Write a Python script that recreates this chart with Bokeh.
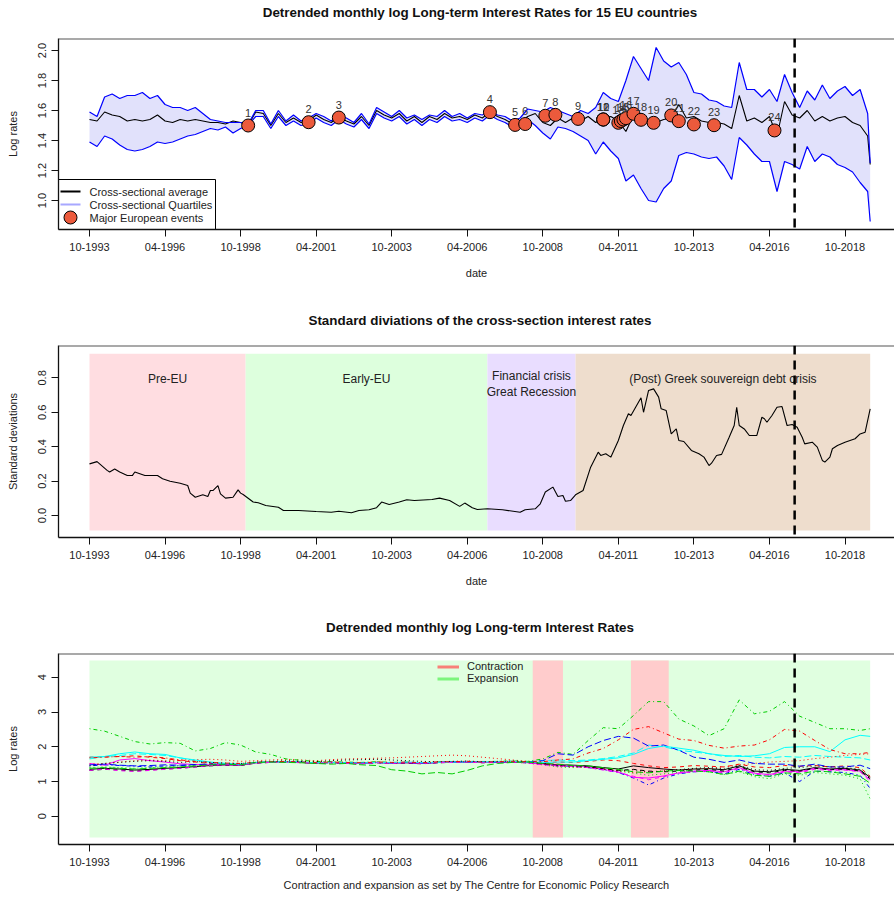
import pandas as pd
from bokeh.plotting import figure
from bokeh.layouts import column
from bokeh.models import Span, FixedTicker, Legend, LegendItem, ColumnDataSource, PrintfTickFormatter
from bokeh.core.properties import value
from bokeh.embed import file_html
from bokeh.resources import INLINE

# ---------------- data ----------------
titles = ["Detrended monthly log Long-term Interest Rates for 15 EU countries",
          "Standard diviations of the cross-section interest rates",
          "Detrended monthly log Long-term Interest Rates"]
tick_labels = ["10-1993", "04-1996", "10-1998", "04-2001", "10-2003", "04-2006",
               "10-2008", "04-2011", "10-2013", "04-2016", "10-2018"]
cutoff_date = "2017-02"

# Panel 1: quarterly cross-sectional statistics (Oct 1993 .. Jul 2019, plus Aug 2019)
p1_start, p1_last, p1_final = "1993-10-01", "2019-07-01", "2019-08"
p1_upper = [1.59, 1.56, 1.69, 1.71, 1.68, 1.70, 1.70, 1.72, 1.68, 1.70, 1.64, 1.62, 1.62, 1.60, 1.62, 1.58, 1.54, 1.53, 1.52, 1.52, 1.52, 1.51,
            1.60, 1.60, 1.51, 1.60, 1.53, 1.57, 1.53, 1.55, 1.58, 1.56, 1.53, 1.57, 1.55, 1.52, 1.58, 1.51, 1.62, 1.59, 1.56, 1.60, 1.55, 1.57, 1.54, 1.57, 1.56, 1.60, 1.56, 1.58, 1.55, 1.58, 1.57, 1.60, 1.57,
            1.56, 1.53, 1.55, 1.61, 1.60, 1.59, 1.62, 1.60, 1.58, 1.56, 1.60, 1.58, 1.62, 1.72, 1.68, 1.66, 1.80, 1.96, 1.88, 1.80, 2.02, 1.93, 1.89, 1.92, 1.84, 1.72, 1.71, 1.67, 1.66, 1.63, 1.62, 1.92, 1.74, 1.74, 1.69, 1.74, 1.66, 1.84, 1.72, 1.62, 1.73, 1.67, 1.77, 1.68, 1.73, 1.76, 1.70, 1.74, 1.58,
            1.25]
p1_mean = [1.54, 1.53, 1.59, 1.57, 1.56, 1.53, 1.54, 1.53, 1.54, 1.57, 1.53, 1.52, 1.54, 1.53, 1.54, 1.53, 1.52, 1.52, 1.51, 1.53, 1.52, 1.50,
           1.59, 1.58, 1.50, 1.58, 1.52, 1.55, 1.52, 1.53, 1.57, 1.54, 1.52, 1.56, 1.53, 1.51, 1.56, 1.50, 1.60, 1.57, 1.55, 1.58, 1.53, 1.56, 1.52, 1.56, 1.54, 1.58, 1.55, 1.56, 1.54, 1.57, 1.55, 1.59, 1.56,
           1.54, 1.51, 1.52, 1.56, 1.58, 1.52, 1.50, 1.55, 1.52, 1.55, 1.53, 1.56, 1.52, 1.54, 1.56, 1.53, 1.46, 1.57, 1.55, 1.53, 1.52, 1.54, 1.55, 1.64, 1.55, 1.56, 1.53, 1.52, 1.52, 1.51, 1.48, 1.70, 1.53, 1.55, 1.52, 1.56, 1.43, 1.66, 1.57, 1.55, 1.60, 1.53, 1.56, 1.53, 1.55, 1.56, 1.52, 1.50, 1.43,
           1.24]
p1_lower = [1.39, 1.36, 1.43, 1.41, 1.37, 1.34, 1.33, 1.34, 1.36, 1.39, 1.38, 1.39, 1.41, 1.43, 1.44, 1.46, 1.48, 1.47, 1.49, 1.45, 1.48, 1.50,
            1.56, 1.56, 1.48, 1.56, 1.50, 1.53, 1.50, 1.51, 1.55, 1.52, 1.50, 1.54, 1.51, 1.49, 1.54, 1.48, 1.58, 1.55, 1.53, 1.56, 1.51, 1.54, 1.50, 1.54, 1.52, 1.56, 1.53, 1.54, 1.52, 1.55, 1.53, 1.57, 1.54,
            1.52, 1.49, 1.50, 1.54, 1.50, 1.45, 1.41, 1.49, 1.48, 1.46, 1.43, 1.40, 1.31, 1.39, 1.33, 1.28, 1.13, 1.17, 1.08, 1.00, 0.99, 1.08, 1.13, 1.30, 1.32, 1.31, 1.29, 1.28, 1.29, 1.23, 1.14, 1.42, 1.37, 1.31, 1.26, 1.26, 1.06, 1.26, 1.24, 1.21, 1.36, 1.26, 1.31, 1.29, 1.24, 1.22, 1.19, 1.12, 1.06,
            0.86]

event_ids = [str(i) for i in range(1, 25)]
event_dates = ["1999-01", "2001-01", "2002-01", "2007-01", "2007-11", "2008-03", "2008-11", "2009-03",
               "2009-12", "2010-10", "2010-10", "2010-10", "2011-04", "2011-05", "2011-06", "2011-07",
               "2011-10", "2012-01", "2012-06", "2013-01", "2013-04", "2013-10", "2014-06", "2016-06"]
event_values = [1.500, 1.522, 1.553, 1.589, 1.504, 1.510, 1.565, 1.571, 1.544, 1.540, 1.540, 1.540,
                1.518, 1.530, 1.540, 1.549, 1.578, 1.538, 1.518, 1.567, 1.529, 1.507, 1.502, 1.467]
legend1_labels = ["Cross-sectional average", "Cross-sectional Quartiles", "Major European events"]

# Panel 2: standard deviations of the cross-section
sd_dates = ["1993-10", "1994-01", "1994-05", "1994-06", "1994-08", "1994-10", "1995-01", "1995-03", "1995-04", "1995-06",
            "1995-08", "1996-01", "1996-03", "1996-06", "1996-08", "1996-10", "1997-01", "1997-02", "1997-04", "1997-07",
            "1997-09", "1997-10", "1997-11", "1998-01", "1998-02", "1998-04", "1998-07", "1998-09", "1998-10", "1998-11",
            "1999-03", "1999-05", "1999-08", "2000-01", "2000-03", "2000-09", "2001-04", "2001-10", "2002-01", "2002-06",
            "2002-09", "2003-01", "2003-04", "2003-06", "2003-09", "2004-01", "2004-04", "2004-07", "2005-02", "2005-05",
            "2005-09", "2006-01", "2006-03", "2006-06", "2006-08", "2006-12", "2007-06", "2008-01", "2008-03", "2008-07",
            "2008-09", "2008-11", "2009-02", "2009-04", "2009-06", "2009-07", "2009-09", "2009-11", "2010-02", "2010-05",
            "2010-08", "2010-09", "2010-11", "2011-01", "2011-04", "2011-06", "2011-08", "2011-09", "2012-01", "2012-02",
            "2012-04", "2012-06", "2012-08", "2012-09", "2012-11", "2013-01", "2013-03", "2013-04", "2013-06", "2013-09",
            "2013-12", "2014-02", "2014-04", "2014-05", "2014-07", "2014-09", "2014-12", "2015-02", "2015-03", "2015-04",
            "2015-06", "2015-08", "2015-11", "2016-01", "2016-02", "2016-03", "2016-05", "2016-07", "2016-09", "2016-11",
            "2017-01", "2017-03", "2017-05", "2017-06", "2017-09", "2017-11", "2018-01", "2018-02", "2018-04", "2018-05",
            "2018-07", "2018-10", "2019-02", "2019-04", "2019-06", "2019-08"]
sd_values = [0.300, 0.313, 0.262, 0.253, 0.270, 0.253, 0.232, 0.232, 0.253, 0.243,
             0.232, 0.232, 0.213, 0.199, 0.193, 0.187, 0.174, 0.130, 0.106, 0.120,
             0.110, 0.145, 0.145, 0.174, 0.126, 0.101, 0.106, 0.149, 0.130, 0.122,
             0.078, 0.074, 0.058, 0.048, 0.029, 0.029, 0.023, 0.019, 0.025, 0.016,
             0.029, 0.033, 0.045, 0.078, 0.064, 0.078, 0.091, 0.087, 0.093, 0.101,
             0.087, 0.053, 0.072, 0.045, 0.035, 0.039, 0.033, 0.019, 0.033, 0.039,
             0.068, 0.136, 0.165, 0.110, 0.116, 0.083, 0.087, 0.120, 0.145, 0.281,
             0.368, 0.349, 0.359, 0.339, 0.436, 0.523, 0.591, 0.581, 0.684, 0.600,
             0.727, 0.736, 0.688, 0.620, 0.610, 0.474, 0.503, 0.436, 0.430, 0.378,
             0.359, 0.339, 0.290, 0.304, 0.349, 0.355, 0.455, 0.523, 0.629, 0.523,
             0.503, 0.465, 0.465, 0.571, 0.562, 0.542, 0.581, 0.629, 0.633, 0.523,
             0.529, 0.513, 0.455, 0.416, 0.426, 0.397, 0.320, 0.310, 0.339, 0.388,
             0.407, 0.426, 0.446, 0.474, 0.484, 0.620]

period_names = ["Pre-EU", "Early-EU", "Financial crisis\nGreat Recession", "(Post) Greek souvereign debt crisis"]
period_start = ["1993-10", "1998-12", "2006-12", "2009-11"]
period_end = ["1998-12", "2006-12", "2009-11", "2019-08"]

# Panel 3: 15 country series, semi-annual (Oct 1993 .. Apr 2019, plus Aug 2019)
p3_start, p3_last, p3_final = "1993-10-01", "2019-04-01", "2019-08"
country_series = [
    [1.35, 1.38, 1.36, 1.33, 1.35, 1.38, 1.40, 1.43, 1.46, 1.48, 1.47,
     1.54, 1.56, 1.57, 1.55, 1.53, 1.55, 1.53, 1.52, 1.55, 1.53, 1.54, 1.52, 1.55, 1.56, 1.57, 1.55, 1.56, 1.57, 1.55,
     1.52, 1.48, 1.47, 1.45, 1.40, 1.36, 1.45, 1.40, 1.36, 1.33, 1.36, 1.37, 1.34, 1.45, 1.30, 1.28, 1.35, 1.32, 1.40, 1.36, 1.38, 1.33, 1.12],
    [1.70, 1.71, 1.72, 1.74, 1.70, 1.66, 1.60, 1.56, 1.52, 1.50, 1.50,
     1.55, 1.56, 1.58, 1.55, 1.54, 1.56, 1.54, 1.53, 1.56, 1.54, 1.55, 1.53, 1.56, 1.57, 1.58, 1.56, 1.57, 1.58, 1.56,
     1.54, 1.56, 1.55, 1.58, 1.62, 1.60, 1.52, 1.45, 1.40, 1.42, 1.46, 1.44, 1.42, 1.50, 1.42, 1.40, 1.46, 1.44, 1.46, 1.42, 1.45, 1.40, 1.15],
    [1.40, 1.42, 1.40, 1.38, 1.40, 1.42, 1.45, 1.47, 1.49, 1.50, 1.48,
     1.53, 1.55, 1.56, 1.56, 1.54, 1.55, 1.54, 1.53, 1.56, 1.54, 1.55, 1.53, 1.54, 1.55, 1.56, 1.56, 1.55, 1.56, 1.53,
     1.48, 1.42, 1.40, 1.42, 1.36, 1.30, 1.24, 1.18, 1.22, 1.27, 1.30, 1.28, 1.20, 1.28, 1.14, 1.08, 1.22, 1.18, 1.26, 1.22, 1.18, 1.08, 0.50],
    [1.45, 1.48, 1.46, 1.44, 1.42, 1.45, 1.46, 1.48, 1.50, 1.49, 1.48,
     1.54, 1.55, 1.57, 1.55, 1.53, 1.54, 1.53, 1.52, 1.54, 1.53, 1.55, 1.52, 1.54, 1.56, 1.56, 1.55, 1.56, 1.56, 1.54,
     1.50, 1.45, 1.44, 1.40, 1.34, 1.26, 1.10, 0.90, 1.10, 1.22, 1.28, 1.30, 1.22, 1.35, 1.20, 1.15, 1.25, 1.00, 1.30, 1.28, 1.26, 1.18, 0.80],
    [1.65, 1.72, 1.75, 1.80, 1.78, 1.75, 1.68, 1.60, 1.55, 1.52, 1.50,
     1.54, 1.56, 1.57, 1.55, 1.54, 1.55, 1.54, 1.53, 1.55, 1.54, 1.55, 1.53, 1.55, 1.56, 1.58, 1.56, 1.57, 1.58, 1.57,
     1.60, 1.62, 1.60, 1.62, 1.66, 1.72, 1.82, 2.05, 2.00, 1.90, 1.85, 1.80, 1.72, 1.75, 1.70, 1.68, 1.72, 1.70, 1.75, 1.72, 1.70, 1.68, 1.62],
    [1.52, 1.47, 1.62, 1.66, 1.60, 1.56, 1.51, 1.49, 1.48, 1.48, 1.47,
     1.54, 1.55, 1.56, 1.55, 1.53, 1.55, 1.53, 1.52, 1.55, 1.53, 1.54, 1.52, 1.55, 1.56, 1.57, 1.55, 1.56, 1.56, 1.54,
     1.50, 1.47, 1.45, 1.42, 1.35, 1.28, 1.12, 1.10, 1.16, 1.25, 1.30, 1.32, 1.28, 1.40, 1.24, 1.20, 1.30, 1.28, 1.38, 1.34, 1.34, 1.30, 1.05],
    [1.32, 1.35, 1.33, 1.30, 1.33, 1.36, 1.38, 1.42, 1.45, 1.47, 1.46,
     1.53, 1.55, 1.56, 1.55, 1.52, 1.54, 1.52, 1.51, 1.54, 1.52, 1.53, 1.51, 1.54, 1.55, 1.56, 1.54, 1.55, 1.56, 1.54,
     1.50, 1.46, 1.45, 1.42, 1.37, 1.32, 1.35, 1.30, 1.28, 1.30, 1.33, 1.35, 1.30, 1.42, 1.28, 1.25, 1.32, 1.30, 1.38, 1.34, 1.36, 1.30, 1.08],
    [1.50, 1.52, 1.56, 1.60, 1.62, 1.60, 1.62, 1.63, 1.64, 1.62, 1.58,
     1.60, 1.62, 1.64, 1.62, 1.60, 1.63, 1.65, 1.66, 1.67, 1.68, 1.70, 1.72, 1.74, 1.76, 1.74, 1.70, 1.66, 1.62, 1.58,
     1.50, 1.44, 1.42, 1.40, 1.36, 1.32, 1.26, 1.28, 1.30, 1.33, 1.36, 1.38, 1.42, 1.48, 1.52, 1.56, 1.58, 1.60, 1.66, 1.70, 1.75, 1.78, 1.80],
    [2.52, 2.45, 2.30, 2.15, 2.08, 2.12, 2.10, 1.88, 1.95, 2.12, 2.05,
     1.85, 1.78, 1.65, 1.61, 1.58, 1.57, 1.56, 1.55, 1.57, 1.55, 1.56, 1.54, 1.56, 1.57, 1.58, 1.57, 1.58, 1.59, 1.58,
     1.65, 1.84, 1.78, 2.18, 2.55, 2.52, 2.90, 3.30, 3.30, 2.80, 2.60, 2.32, 2.52, 3.35, 2.95, 3.02, 3.30, 2.88, 2.70, 2.52, 2.52, 2.47, 2.52],
    [1.48, 1.50, 1.47, 1.45, 1.46, 1.48, 1.47, 1.49, 1.50, 1.50, 1.49,
     1.55, 1.56, 1.57, 1.56, 1.54, 1.55, 1.54, 1.53, 1.55, 1.54, 1.55, 1.53, 1.55, 1.56, 1.57, 1.56, 1.56, 1.57, 1.56,
     1.60, 1.80, 1.76, 2.00, 2.18, 2.30, 2.25, 2.02, 2.05, 1.90, 1.70, 1.64, 1.55, 1.62, 1.52, 1.50, 1.50, 1.44, 1.50, 1.42, 1.42, 1.47, 1.37],
    [1.70, 1.72, 1.80, 1.85, 1.80, 1.78, 1.68, 1.62, 1.56, 1.52, 1.50,
     1.55, 1.56, 1.57, 1.56, 1.54, 1.55, 1.54, 1.53, 1.55, 1.54, 1.56, 1.54, 1.55, 1.56, 1.57, 1.56, 1.57, 1.58, 1.56,
     1.55, 1.56, 1.56, 1.60, 1.64, 1.68, 1.78, 1.95, 2.02, 1.96, 1.90, 1.80, 1.75, 1.72, 1.74, 1.80, 1.98, 2.00, 2.00, 1.86, 2.20, 2.33, 2.30],
    [1.32, 1.36, 1.31, 1.29, 1.32, 1.35, 1.38, 1.42, 1.46, 1.48, 1.47,
     1.53, 1.55, 1.56, 1.54, 1.53, 1.54, 1.52, 1.51, 1.54, 1.52, 1.54, 1.52, 1.54, 1.55, 1.56, 1.54, 1.55, 1.56, 1.53,
     1.48, 1.45, 1.43, 1.40, 1.33, 1.26, 1.15, 1.05, 1.14, 1.24, 1.28, 1.30, 1.25, 1.38, 1.22, 1.18, 1.28, 1.25, 1.35, 1.32, 1.33, 1.28, 1.00],
    [1.45, 1.52, 1.55, 1.58, 1.60, 1.58, 1.55, 1.57, 1.55, 1.53, 1.52,
     1.56, 1.58, 1.60, 1.58, 1.57, 1.60, 1.62, 1.63, 1.64, 1.62, 1.60, 1.58, 1.57, 1.58, 1.59, 1.57, 1.58, 1.59, 1.57,
     1.52, 1.46, 1.44, 1.42, 1.36, 1.30, 1.34, 1.28, 1.30, 1.34, 1.38, 1.40, 1.36, 1.46, 1.34, 1.32, 1.38, 1.40, 1.45, 1.42, 1.40, 1.35, 1.10],
    [1.68, 1.70, 1.72, 1.70, 1.72, 1.68, 1.62, 1.58, 1.55, 1.53, 1.52,
     1.55, 1.57, 1.58, 1.56, 1.55, 1.56, 1.55, 1.54, 1.56, 1.55, 1.56, 1.54, 1.56, 1.57, 1.58, 1.56, 1.57, 1.58, 1.57,
     1.57, 1.62, 1.65, 1.82, 1.95, 2.20, 2.50, 2.58, 2.40, 2.22, 2.18, 2.04, 1.96, 2.02, 2.05, 2.20, 2.50, 2.45, 2.18, 1.92, 1.80, 1.80, 1.84],
    [1.38, 1.40, 1.38, 1.36, 1.38, 1.40, 1.42, 1.45, 1.48, 1.50, 1.48,
     1.55, 1.56, 1.55, 1.54, 1.52, 1.50, 1.52, 1.48, 1.46, 1.34, 1.30, 1.22, 1.26, 1.22, 1.32, 1.45, 1.52, 1.55, 1.56,
     1.52, 1.50, 1.46, 1.45, 1.40, 1.35, 1.28, 1.25, 1.30, 1.32, 1.30, 1.28, 1.20, 1.30, 1.18, 1.15, 1.25, 1.22, 1.30, 1.28, 1.22, 1.15, 0.95],
]
expansion_span = ["1993-10", "2019-08"]
contraction_start = ["2008-06", "2011-09"]
contraction_end = ["2009-06", "2012-12"]
legend3_labels = ["Contraction", "Expansion"]

# ---------------- helpers ----------------
def dec(s):
    y, m = s.split("-")[:2]
    return int(y) + (int(m) - 1) / 12.0

def dec_ts(t):
    return t.year + (t.month - 1) / 12.0

def tick_dec(lbl):
    m, y = lbl.split("-")
    return int(y) + (int(m) - 1) / 12.0

FONT = "Liberation Sans"
W = 894
LEFT = 58                      # left border in px
FW = W - LEFT                  # frame width in px
PXY = 30.22                    # px per year
X0 = 1993.75 - 31 / PXY
X1 = X0 + FW / PXY
tick_pos = [tick_dec(l) for l in tick_labels]
cut_x = dec(cutoff_date)

def fx(px):
    return X0 + px * (X1 - X0) / FW


def title_strip(text, height, from_top):
    # frame spans page pixels LEFT..W, so data x equals page x
    t = figure(width=W, height=height, x_range=(LEFT, W), y_range=(0, height),
               output_backend="svg", toolbar_location=None,
               min_border_left=LEFT, min_border_right=0, min_border_top=0, min_border_bottom=0,
               x_axis_type=None, y_axis_type=None)
    t.outline_line_color = None
    t.grid.visible = False
    t.background_fill_color = "white"
    t.border_fill_color = "white"
    t.text(x=[479.5], y=[height - from_top], text=[text], text_font=value(FONT),
           text_font_size="13.4px", text_font_style="bold", text_color="#111111",
           text_align="center", text_baseline="middle")
    return t


def make_fig(height, top, bottom, yr, ylabel, xlabel, yticks, yfmt):
    p = figure(width=W, height=height, x_range=(X0, X1), y_range=yr,
               output_backend="svg", toolbar_location=None,
               min_border_left=LEFT, min_border_right=0,
               min_border_top=top, min_border_bottom=bottom)
    p.outline_line_color = None
    p.grid.visible = False
    p.background_fill_color = "white"
    p.border_fill_color = "white"
    for ax in (p.xaxis, p.yaxis):
        ax.axis_line_color = "#111111"
        ax.axis_line_width = 1.3
        ax.major_tick_line_color = "#111111"
        ax.major_tick_out = 7
        ax.major_tick_in = 0
        ax.minor_tick_line_color = None
        ax.major_label_text_font = FONT
        ax.major_label_text_font_size = "11px"
        ax.major_label_text_color = "#222222"
        ax.axis_label_text_font = FONT
        ax.axis_label_text_font_size = "11px"
        ax.axis_label_text_font_style = "normal"
        ax.axis_label_text_color = "#222222"
    p.xaxis.ticker = FixedTicker(ticks=tick_pos)
    p.xaxis.major_label_overrides = {t: l for t, l in zip(tick_pos, tick_labels)}
    p.xaxis.major_label_standoff = 6
    p.xaxis.axis_label = xlabel
    p.xaxis.axis_label_standoff = 13
    p.yaxis.ticker = FixedTicker(ticks=yticks)
    p.yaxis.formatter = PrintfTickFormatter(format=yfmt)
    p.yaxis.major_label_orientation = "vertical"
    p.yaxis.major_label_standoff = 5
    p.yaxis.axis_label = ylabel
    p.yaxis.axis_label_standoff = 17
    p.add_layout(Span(location=yr[1], dimension="width", line_color="#555555", line_width=2))
    return p


# ---------------- panel 1 ----------------
q = pd.date_range(p1_start, p1_last, freq="3MS")
x1 = [dec_ts(t) for t in q] + [dec(p1_final)]
Y1 = (0.8067, 2.08)
FH1 = 191

t1 = title_strip(titles[0], 24, 12)
p1 = make_fig(276, 14, 71, Y1, "Log rates", "date", [1.0, 1.2, 1.4, 1.6, 1.8, 2.0], "%.1f")
p1.varea(x=x1, y1=p1_lower, y2=p1_upper, fill_color="#E1E1FB")
p1.line(x1, p1_mean, line_color="black", line_width=1.1)
p1.line(x1, p1_upper, line_color="#0000FF", line_width=1.2)
p1.line(x1, p1_lower, line_color="#0000FF", line_width=1.2)
p1.add_layout(Span(location=cut_x, dimension="height", line_color="black",
                   line_width=2.5, line_dash="9 6"))
ev_src = ColumnDataSource(dict(x=[dec(d) for d in event_dates], y=event_values, t=event_ids))
p1.scatter("x", "y", source=ev_src, size=13, fill_color="#EC5A3C",
           line_color="black", line_width=1)
p1.text("x", "y", text="t", source=ev_src, text_font=value(FONT), text_font_size="11px",
        text_color="#333333", text_align="center", text_baseline="middle", y_offset=-13)

# legend box of panel 1 (drawn in frame-pixel offsets)
def fy1(py):
    return Y1[1] - py * (Y1[1] - Y1[0]) / FH1

rows = [153, 166, 179]
p1.quad(left=[fx(0)], right=[fx(157)], top=[fy1(141)], bottom=[fy1(191)],
        fill_color="white", line_color="black", line_width=1)
p1.segment(x0=[fx(2)], x1=[fx(22)], y0=[fy1(rows[0])], y1=[fy1(rows[0])], line_color="black", line_width=2)
p1.segment(x0=[fx(2)], x1=[fx(22)], y0=[fy1(rows[1])], y1=[fy1(rows[1])], line_color="#A8A8FF", line_width=2)
p1.scatter(x=[fx(12)], y=[fy1(rows[2])], size=13, fill_color="#EC5A3C", line_color="black", line_width=1)
p1.text(x=[fx(31)] * 3, y=[fy1(r) for r in rows], text=legend1_labels, text_font=value(FONT),
        text_font_size="11px", text_color="#222222", text_align="left", text_baseline="middle")

# ---------------- panel 2 ----------------
t2 = title_strip(titles[1], 30, 20)
p2 = make_fig(278, 15, 71, (-0.128, 0.988), "Standard deviations", "date",
              [0.0, 0.2, 0.4, 0.6, 0.8], "%.1f")
period_colors = ["#FFDDE1", "#DDFFDD", "#E9DDFF", "#EEDDCD"]
ps = [dec(d) for d in period_start]
pe = [dec(d) for d in period_end]
p2.quad(left=ps, right=pe, bottom=-0.087, top=0.94, fill_color=period_colors, line_color=None)
p2.line([dec(d) for d in sd_dates], sd_values, line_color="black", line_width=1.1)
p2.add_layout(Span(location=cut_x, dimension="height", line_color="black",
                   line_width=2.5, line_dash="9 6"))
lab_src = ColumnDataSource(dict(x=[(a + b) / 2 for a, b in zip(ps, pe)],
                                y=[0.796, 0.796, 0.765, 0.796], t=period_names))
p2.text("x", "y", text="t", source=lab_src, text_font=value(FONT), text_font_size="12px",
        text_color="#222222", text_align="center", text_baseline="middle", text_line_height=1.15)

# ---------------- panel 3 ----------------
s = pd.date_range(p3_start, p3_last, freq="6MS")
x3 = [dec_ts(t) for t in s] + [dec(p3_final)]
t3 = title_strip(titles[2], 30, 19)
p3 = make_fig(257, 15, 51, (-0.813, 4.685), "Log rates",
              "Contraction and expansion as set by The Centre for Economic Policy Research",
              [0, 1, 2, 3, 4], "%d")
p3.xaxis.axis_label_standoff = 10
p3.quad(left=[dec(expansion_span[0])], right=[dec(expansion_span[1])], bottom=-0.61, top=4.48,
        fill_color="#E0FFE0", line_color=None)
p3.quad(left=[dec(d) for d in contraction_start], right=[dec(d) for d in contraction_end],
        bottom=-0.61, top=4.48, fill_color="#FFCCCC", line_color=None)
palette = ["#000000", "#FF0000", "#00CD00", "#0000FF", "#00FFFF", "#FF00FF"]
dashes = ["solid", "4 4", "1 3", "1 3 4 3", "7 3"]
for i, ser in enumerate(country_series):
    p3.line(x3, ser, line_color=palette[i % 6], line_dash=dashes[i % 5], line_width=1)
p3.add_layout(Span(location=cut_x, dimension="height", line_color="black",
                   line_width=2.5, line_dash="9 6"))
nan = float("nan")
r_c = p3.line([nan], [nan], line_color="#F88078", line_width=3)
r_e = p3.line([nan], [nan], line_color="#7CF57C", line_width=3)
leg3 = Legend(items=[LegendItem(label=legend3_labels[0], renderers=[r_c]),
                     LegendItem(label=legend3_labels[1], renderers=[r_e])],
              location=(379, 160), margin=0, padding=0, spacing=0,
              glyph_width=22, glyph_height=11, label_height=11, label_standoff=8,
              label_text_font=FONT, label_text_font_size="11px", label_text_color="#222222",
              border_line_color=None, background_fill_alpha=0)
p3.add_layout(leg3)

layout = column(t1, p1, t2, p2, t3, p3, spacing=0)
open("out.html", "w").write(file_html(layout, INLINE))
